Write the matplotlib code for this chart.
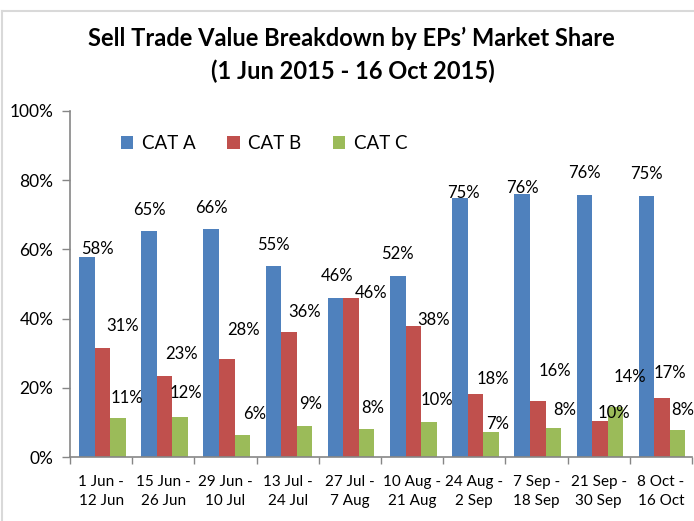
import matplotlib.pyplot as plt
from matplotlib.lines import Line2D
from matplotlib.ticker import FixedLocator, PercentFormatter
import numpy as np

# data (percent share)
periods = ["1 Jun -\n12 Jun", "15 Jun -\n26 Jun", "29 Jun -\n10 Jul", "13 Jul -\n24 Jul",
           "27 Jul -\n7 Aug", "10 Aug -\n21 Aug", "24 Aug -\n2 Sep", "7 Sep -\n18 Sep",
           "21 Sep -\n30 Sep", "8 Oct -\n16 Oct"]
cat_a = [57.8, 65.2, 65.9, 55.2, 46.0, 52.3, 74.9, 76.0, 75.6, 75.4]
cat_b = [31.4, 23.4, 28.3, 36.1, 46.1, 37.8, 18.4, 16.2, 10.4, 17.1]
cat_c = [11.2, 11.7, 6.3, 9.1, 8.3, 10.1, 7.2, 8.4, 14.4, 7.9]
series_names = ["CAT A", "CAT B", "CAT C"]

# label nudges in pixels (dx, dy) from the top centre of each bar
nudge_a = [(11, 8), (0, 21), (0, 21), (0, 21), (1, 22), (0, 22), (3, 5), (0, 6), (0, 22), (0, 22)]
nudge_b = [(20, 22), (17, 22), (17, 29), (16, 20), (20, 5), (20, 6), (17, 15), (17, 30), (14, 8), (8, 25)]
nudge_c = [(9, 20), (6, 24), (12, 21), (6, 22), (6, 21), (8, 22), (7, 8), (11, 18), (14, 30), (5, 20)]

colors = ["#4F81BD", "#C0504D", "#9BBB59"]
FONT = "Lato"
plt.rcParams['font.family'] = [FONT, 'DejaVu Sans']

fig = plt.figure(figsize=(6.94, 5.21), dpi=100)
ax = fig.add_axes([70 / 694, 1 - 457.3 / 521, 622 / 694, 346.6 / 521])

x = np.arange(len(periods))
w = 0.25
series = [cat_a, cat_b, cat_c]
nudges = [nudge_a, nudge_b, nudge_c]
for k, (vals, col, name, nd) in enumerate(zip(series, colors, series_names, nudges)):
    pos = x + (k - 1) * w + 0.02
    ax.bar(pos, vals, width=w, color=col, label=name, linewidth=0)
    for xi, v, (dx, dy) in zip(pos, vals, nd):
        ax.annotate(f"{v:.0f}%", xy=(xi, v), xytext=(dx, dy), textcoords="offset pixels",
                    ha="center", va="center", fontsize=12, color="black")

ax.set_xlim(-0.5, len(periods) - 0.5)
ax.set_ylim(0, 100)
ax.yaxis.set_major_locator(FixedLocator([0, 20, 40, 60, 80, 100]))
ax.yaxis.set_major_formatter(PercentFormatter(decimals=0))

# ticks between categories, labels at centres
ax.xaxis.set_major_locator(FixedLocator(np.arange(len(periods) + 1) - 0.5))
ax.xaxis.set_minor_locator(FixedLocator(x))
ax.set_xticklabels([], minor=False)
ax.set_xticklabels(periods, minor=True, fontsize=11, linespacing=1.45)
ax.tick_params(axis="x", which="major", length=5, width=1, color="#868686", direction="out")
ax.tick_params(axis="x", which="minor", length=0, pad=13)
ax.tick_params(axis="y", length=6, width=1, color="#868686", labelsize=12.5, pad=6)

for s in ["top", "right"]:
    ax.spines[s].set_visible(False)
for s in ["left", "bottom"]:
    ax.spines[s].set_color("#868686")
    ax.spines[s].set_linewidth(1.2)

leg = ax.legend(loc="center left", bbox_to_anchor=(0.055, 0.905), ncol=3, frameon=False,
                fontsize=13.5, handlelength=0.65, handleheight=0.65, handletextpad=0.45,
                columnspacing=1.7)

fig.text(351.5 / 694, 1 - 38 / 521, "Sell Trade Value Breakdown by EPs’ Market Share",
         ha="center", va="center", fontsize=17, fontweight="bold")
fig.text(352.5 / 694, 1 - 71 / 521, "(1 Jun 2015 - 16 Oct 2015)",
         ha="center", va="center", fontsize=17, fontweight="bold")

# light outer frame of the chart area
fig.add_artist(Line2D([2 / 694, 2 / 694], [0, 1 - 11 / 521], transform=fig.transFigure,
                      color="#D9D9D9", linewidth=1.5))
fig.add_artist(Line2D([2 / 694, 1], [1 - 11 / 521, 1 - 11 / 521], transform=fig.transFigure,
                      color="#D9D9D9", linewidth=1.5))

fig.savefig("out.png", dpi=100)
